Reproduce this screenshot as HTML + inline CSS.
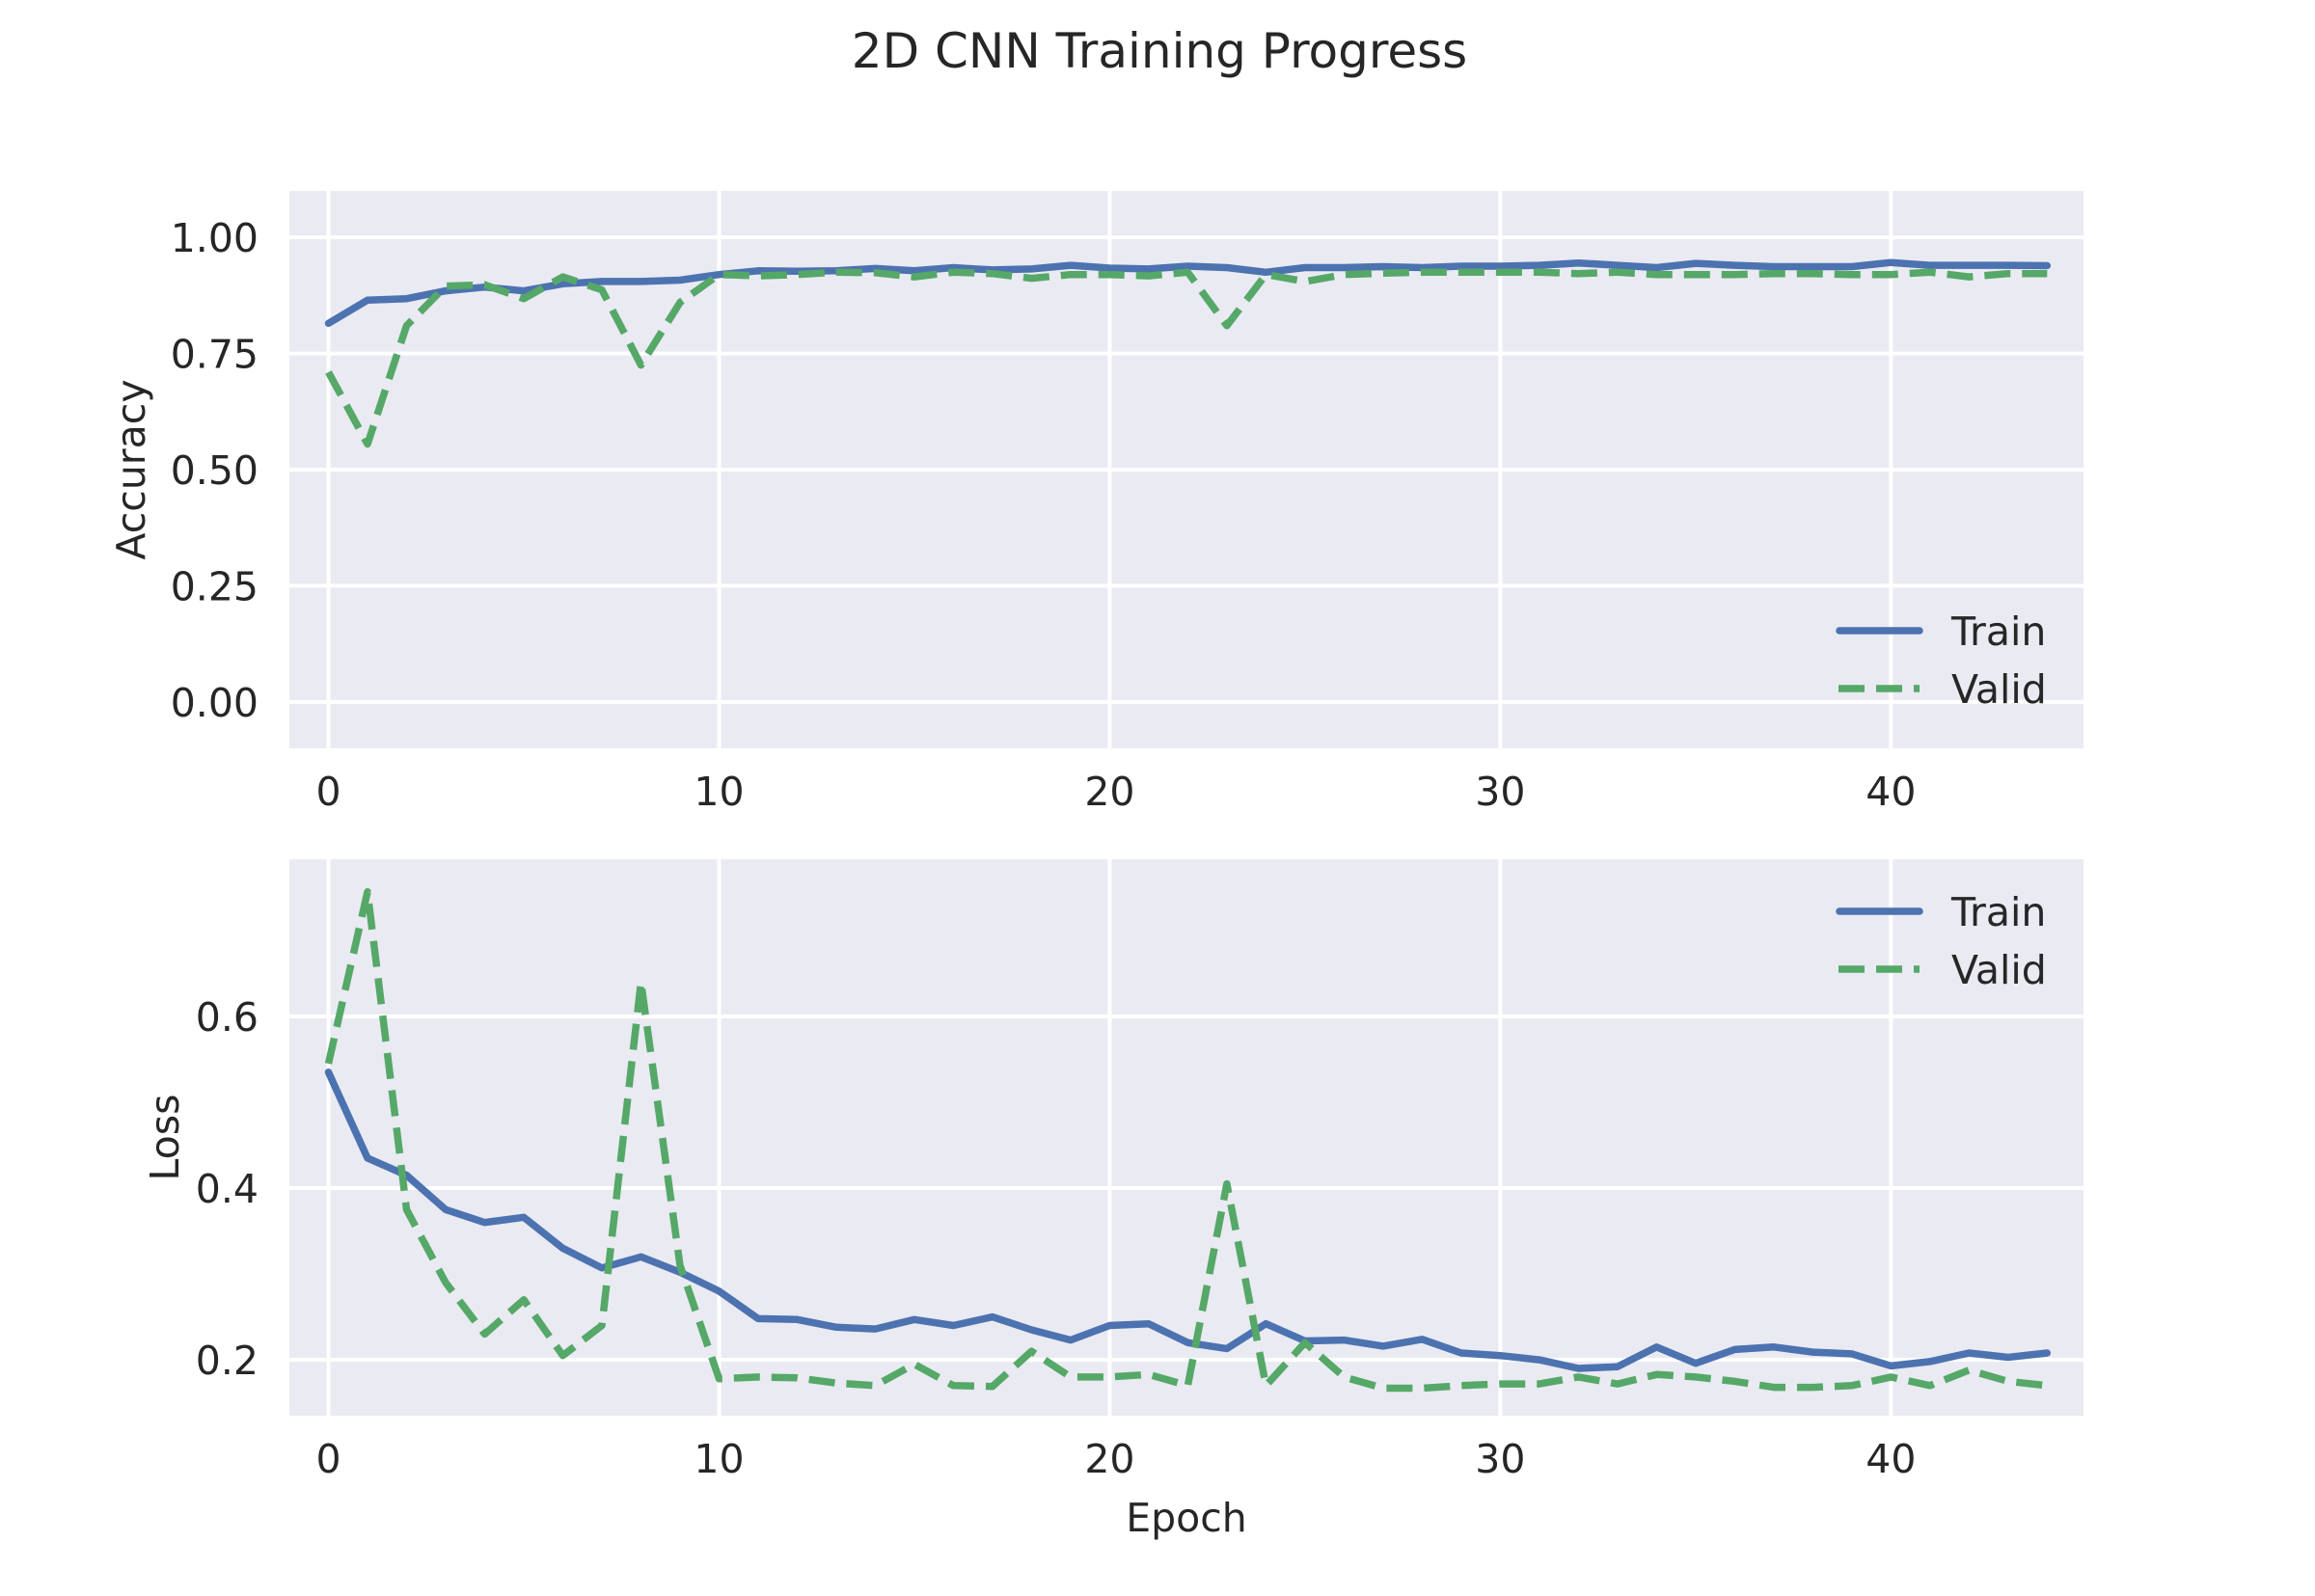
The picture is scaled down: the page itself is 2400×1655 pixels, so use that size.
<!DOCTYPE html>
<html><head><meta charset="utf-8"><style>
html,body{margin:0;padding:0;background:#fff}
svg text{font-family:"DejaVu Sans","Liberation Sans",sans-serif;fill:#262626}
</style></head><body>
<svg id="fig" width="2400" height="1650" viewBox="0 0 2400 1650" xmlns="http://www.w3.org/2000/svg">
<text x="1202" y="70" font-size="50" text-anchor="middle">2D CNN Training Progress</text>
<g id="top"></g>
<g id="bot"></g>
</svg>
<script>
const epochs = Array.from({length:45},(_,i)=>i);
const accTrain = [0.815,0.865,0.868,0.885,0.893,0.885,0.900,0.905,0.905,0.908,0.920,0.928,0.927,0.928,0.933,0.928,0.935,0.930,0.932,0.940,0.934,0.932,0.938,0.935,0.925,0.935,0.935,0.937,0.935,0.938,0.938,0.940,0.945,0.940,0.935,0.944,0.940,0.937,0.937,0.937,0.946,0.940,0.940,0.940,0.939];
const accValid = [0.710,0.555,0.810,0.895,0.898,0.868,0.915,0.887,0.725,0.860,0.920,0.917,0.920,0.925,0.924,0.915,0.925,0.922,0.912,0.920,0.920,0.917,0.925,0.810,0.920,0.905,0.920,0.923,0.925,0.925,0.925,0.925,0.922,0.925,0.920,0.920,0.920,0.922,0.922,0.920,0.920,0.925,0.915,0.922,0.922];
const lossTrain = [0.535,0.435,0.415,0.375,0.360,0.366,0.330,0.307,0.320,0.302,0.280,0.248,0.247,0.238,0.236,0.247,0.240,0.250,0.235,0.223,0.240,0.242,0.220,0.213,0.242,0.222,0.223,0.216,0.224,0.208,0.205,0.200,0.190,0.192,0.215,0.196,0.212,0.215,0.209,0.207,0.193,0.198,0.208,0.203,0.208];
const lossValid = [0.545,0.745,0.375,0.290,0.230,0.270,0.205,0.240,0.640,0.310,0.178,0.180,0.179,0.173,0.170,0.195,0.170,0.169,0.210,0.180,0.180,0.183,0.170,0.405,0.170,0.220,0.180,0.167,0.167,0.170,0.172,0.172,0.180,0.172,0.183,0.180,0.175,0.168,0.168,0.170,0.180,0.170,0.188,0.175,0.170];
const xTicks = [0,10,20,30,40];
const accTicks = [0,0.25,0.5,0.75,1.0];
const accTickLabels = ["0.00","0.25","0.50","0.75","1.00"];
const lossTicks = [0.2,0.4,0.6];
const lossTickLabels = ["0.2","0.4","0.6"];
const seriesNames = ["Train","Valid"];

const NS="http://www.w3.org/2000/svg";
function mk(parent,tag,attrs){const e=document.createElementNS(NS,tag);for(const k in attrs)e.setAttribute(k,attrs[k]);parent.appendChild(e);return e;}
const L=300,R=2160,X0=-1.0,X1=44.93;
const xs=v=>L+(v-X0)/(X1-X0)*(R-L);
const LW=7.5, DASH='27 12';

function panel(g,top,bottom,y0,y1,ticks,labels,ylabel,ylabelX,train,valid,legY,showXlabel,nm){
  const ys=v=>bottom-(v-y0)/(y1-y0)*(bottom-top);
  const bg=mk(g,'rect',{x:L,y:top,width:R-L,height:bottom-top,fill:'#eaeaf2'});
  
  
  xTicks.forEach(t=>{
    const l=mk(g,'line',{x1:xs(t),x2:xs(t),y1:top,y2:bottom,stroke:'#fff','stroke-width':4});
    
    
    const tx=mk(g,'text',{x:xs(t),y:bottom+59,'font-size':41,'text-anchor':'middle'});
    tx.textContent=t;
    
    
  });
  ticks.forEach((t,i)=>{
    const l=mk(g,'line',{x1:L,x2:R,y1:ys(t),y2:ys(t),stroke:'#fff','stroke-width':4});
    
    
    const tx=mk(g,'text',{x:268,y:ys(t)+15,'font-size':41,'text-anchor':'end'});
    tx.textContent=labels[i];
    
    
  });
  const yl=mk(g,'text',{x:ylabelX,y:(top+bottom)/2,'font-size':41,'text-anchor':'middle',transform:`rotate(-90 ${ylabelX} ${(top+bottom)/2})`});
  yl.textContent=ylabel;
  
  
  const pts=a=>a.map((v,i)=>xs(epochs[i]).toFixed(1)+','+ys(v).toFixed(1)).join(' ');
  const p1=mk(g,'polyline',{points:pts(train),fill:'none',stroke:'#4c72b0','stroke-width':LW,'stroke-linejoin':'round','stroke-linecap':'round'});
  
  
  const p2=mk(g,'polyline',{points:pts(valid),fill:'none',stroke:'#55a868','stroke-width':LW,'stroke-dasharray':DASH,'stroke-linejoin':'round'});
  
  
  const lg=mk(g,'g',{});
  
  
  const a=mk(lg,'line',{x1:1907,x2:1990,y1:legY,y2:legY,stroke:'#4c72b0','stroke-width':LW,'stroke-linecap':'round'});
  
  
  const at=mk(lg,'text',{x:2023,y:legY+15,'font-size':41});
  at.textContent=seriesNames[0];
  
  
  const b=mk(lg,'line',{x1:1906,x2:1990,y1:legY+60,y2:legY+60,stroke:'#55a868','stroke-width':LW,'stroke-dasharray':DASH});
  
  
  const bt=mk(lg,'text',{x:2023,y:legY+75,'font-size':41});
  bt.textContent=seriesNames[1];
  
  
  if(showXlabel){
    const xl=mk(g,'text',{x:(L+R)/2,y:1588,'font-size':41,'text-anchor':'middle'});
    xl.textContent='Epoch';
    
    
  }
}
panel(document.getElementById('top'),198,776,-0.1,1.1,accTicks,accTickLabels,'Accuracy',150,accTrain,accValid,654,false,'accuracy');
panel(document.getElementById('bot'),891,1468,0.135,0.783,lossTicks,lossTickLabels,'Loss',185,lossTrain,lossValid,945,true,'loss');
</script>
</body></html>
